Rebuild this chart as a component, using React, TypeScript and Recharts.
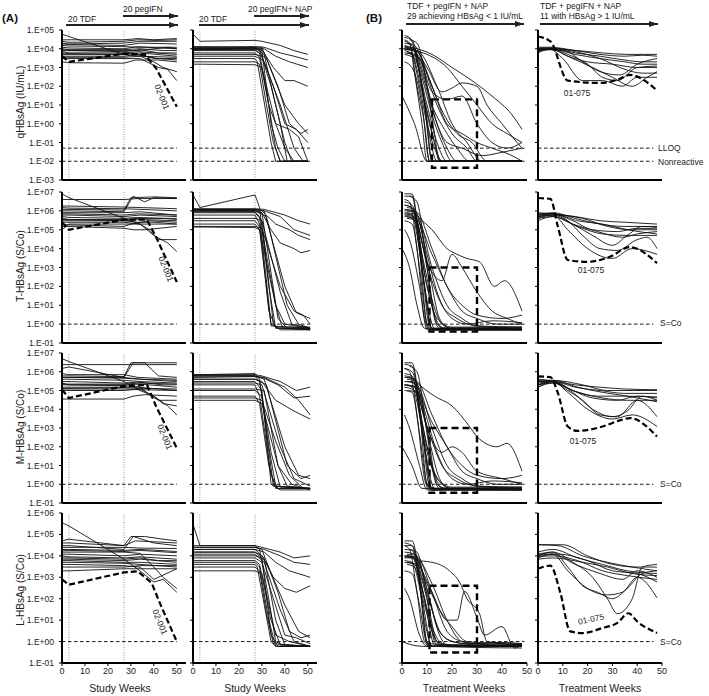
import { LineChart, Line, XAxis, YAxis, ReferenceLine, ReferenceArea } from 'recharts';

type Pt = [number, number];

const FONT = "Arial, 'Liberation Sans', sans-serif";

// ---- qHBsAg (IU/mL) ----
const qA1: Pt[][] = [
  [[0,6e4],[3,4.5e4],[27,5e3],[30,6e3],[36,4e3],[42,3e3],[50,2.5e3]],
  [[0,3e4],[3,3e4],[27,3e4],[33,3.5e4],[40,3e4],[50,3.5e4]],
  [[0,2.5e4],[3,2.2e4],[27,2.5e4],[33,3e4],[42,2.8e4],[50,3e4]],
  [[0,2e4],[3,1.8e4],[27,2e4],[34,2.5e4],[50,2.5e4]],
  [[0,1.8e4],[3,1.7e4],[27,1.5e4],[34,2e4],[50,1.8e4]],
  [[0,1.5e4],[3,1.4e4],[27,1.3e4],[33,1.2e4],[50,1.2e4]],
  [[0,1.2e4],[3,1.1e4],[27,1e4],[33,1.3e4],[42,1.1e4],[50,1e4]],
  [[0,1e4],[3,9e3],[27,9e3],[34,1e4],[44,8e3],[50,8e3]],
  [[0,9e3],[3,8e3],[27,8e3],[33,8e3],[46,1.2e4],[50,1e4]],
  [[0,8e3],[3,8e3],[27,7e3],[34,9e3],[42,6e3],[50,6e3]],
  [[0,7e3],[3,6e3],[27,6e3],[33,7e3],[50,5e3]],
  [[0,6e3],[3,5.5e3],[27,5e3],[34,6e3],[50,4e3]],
  [[0,5e3],[3,5e3],[27,5e3],[34,4e3],[40,2e3],[44,1e3],[50,6e2]],
  [[0,4e3],[3,4e3],[27,4e3],[33,5e3],[40,3e3],[50,3e3]],
  [[0,3.5e3],[3,3.5e3],[27,3.5e3],[34,4e3],[50,3.5e3]],
  [[0,3e3],[3,3e3],[27,3e3],[34,3e3],[42,1e3],[46,8e2],[50,2e2]],
  [[0,2e3],[3,1.8e3],[27,1.7e3],[32,2.5e3],[42,2.5e3],[50,2e3]],
];
const qA1Case: Pt[] = [[0,4e3],[3,2e3],[27,5.5e3],[36,5e3],[41,9e2],[50,8]];
const qA2: Pt[][] = [
  [[0,6e4],[3,2.5e4],[27,2.8e4],[30,2.5e4],[38,1.5e4],[44,8e3],[50,5e3]],
  [[0,1.2e4],[3,1.2e4],[27,1.3e4],[31,1.2e4],[38,6e3],[44,4e3],[50,2.5e3]],
  [[0,1e4],[3,1e4],[27,1.1e4],[31,1e4],[36,4e3],[42,2e3],[50,1e3]],
  [[0,9e3],[3,9e3],[27,1e4],[30,9e3],[35,1e3],[40,2e2],[44,2e2],[50,1e2]],
  [[0,8e3],[3,8e3],[27,8e3],[29,6e3],[33,10],[36,1],[40,0.05],[44,0.01],[50,0.01]],
  [[0,1e4],[3,1e4],[27,1e4],[30,8e3],[34,1],[37,0.05],[40,0.01],[50,0.01]],
  [[0,1.1e4],[3,1.1e4],[27,1.1e4],[31,5e3],[36,10],[40,0.1],[43,0.01],[50,0.01]],
  [[0,4e3],[3,4e3],[27,4e3],[29,3e3],[33,10],[36,0.05],[38,0.01],[50,0.01]],
  [[0,5e3],[3,5e3],[27,5e3],[30,4e3],[35,1e2],[40,1],[45,0.5],[50,0.1]],
  [[0,2e3],[3,2e3],[27,2e3],[29,1.5e3],[32,10],[35,0.1],[38,0.01],[50,0.01]],
  [[0,1.5e3],[3,1.5e3],[27,1.4e3],[30,1e3],[36,1],[42,0.5],[46,0.2],[50,0.01]],
  [[0,1.3e4],[3,1.3e4],[27,1.2e4],[30,1.2e4],[37,1e2],[42,1],[47,0.3],[50,0.5]],
  [[0,6e3],[3,6e3],[27,6e3],[31,2e3],[38,10],[44,0.05],[48,0.01],[50,0.01]],
  [[0,9e3],[3,9e3],[27,9e3],[32,3e3],[40,10],[46,1],[50,0.3]],
  [[0,1e4],[3,1.1e4],[27,1.1e4],[29,9e3],[34,1e2],[38,1],[41,0.01],[50,0.01]],
  [[0,3e3],[3,3e3],[27,3e3],[28,2e3],[34,0.1],[36,0.01],[50,0.01]],
];
const qB1: Pt[][] = [
  [[1,3e4],[3,2e4],[6,1e2],[9,1],[11,0.01],[48,0.01]],
  [[1,4e4],[4,3e4],[8,1e2],[12,0.05],[14,0.01],[48,0.01]],
  [[1,2e4],[4,1.5e4],[9,10],[12,0.01],[48,0.01]],
  [[0,1e4],[3,1e4],[7,1e2],[10,1],[13,0.05],[16,0.01],[48,0.01]],
  [[1,1.5e4],[5,8e3],[10,1e2],[14,1],[18,0.05],[22,0.01],[48,0.01]],
  [[1,8e3],[4,5e3],[8,50],[12,0.3],[16,0.01],[48,0.01]],
  [[2,9e3],[6,8e3],[14,1e2],[20,1],[26,0.1],[32,0.01],[48,0.01]],
  [[1,5e3],[5,3e3],[10,10],[14,0.1],[18,0.01],[48,0.01]],
  [[1,1e4],[4,9e3],[8,2e3],[14,10],[20,0.3],[26,0.05],[30,0.01],[48,0.01]],
  [[1,2e3],[4,1e3],[8,10],[11,0.01],[48,0.01]],
  [[2,2e4],[5,1.5e4],[10,5e2],[16,5],[22,0.3],[28,0.1],[34,0.01],[48,0.01]],
  [[0,30],[5,1],[10,0.01],[48,0.01]],
  [[5,8e3],[10,5e3],[18,1e3],[24,1e2],[30,10],[36,1],[42,0.3],[48,0.1]],
  [[1,6e3],[4,5e3],[7,3e3],[12,50],[18,20],[24,30],[30,1],[36,0.1],[42,0.05],[48,0.1]],
  [[1,9e3],[5,8e3],[8,5e2],[14,1],[18,0.1],[24,0.05],[32,0.02],[40,0.03],[48,0.05]],
  [[4,1.2e4],[12,5e3],[20,1e3],[28,2e2],[36,30],[44,3],[48,0.5]],
  [[1,1.3e4],[5,1e4],[10,1e3],[16,50],[20,80],[24,1.5e2],[30,1e2],[34,10],[40,1],[46,0.1],[48,0.05]],
  [[2,1e4],[6,7e3],[12,1e2],[18,1],[24,0.3],[30,0.1],[36,0.05],[44,0.02],[48,0.01]],
  [[1,5e4],[3,4e4],[7,5e2],[10,1],[12,0.01],[48,0.01]],
  [[2,7e3],[7,3e3],[12,10],[17,0.5],[22,0.05],[27,0.01],[48,0.01]],
  [[1,2.5e4],[3,2e4],[5,5e2],[8,1],[10,0.01],[48,0.01]],
  [[2,6e3],[5,4e3],[9,20],[13,0.1],[15,0.01],[48,0.01]],
  [[1,1.2e4],[4,1e4],[8,3e2],[12,3],[16,0.1],[20,0.01],[48,0.01]],
  [[3,3e4],[6,2e4],[10,1e2],[13,0.3],[15,0.01],[48,0.01]],
];
const qB2: Pt[][] = [
  [[0,1.2e4],[5,1.2e4],[15,8e3],[25,5e3],[35,4e3],[42,4.5e3],[48,4e3]],
  [[0,1e4],[5,1.1e4],[15,6e3],[25,4e3],[35,2.5e3],[42,2e3],[48,2e3]],
  [[0,9e3],[5,1e4],[15,5e3],[25,3e3],[35,2e3],[42,1.5e3],[48,1.5e3]],
  [[0,8e3],[5,1e4],[12,4e3],[20,2e3],[30,1.5e3],[40,1e3],[48,1e3]],
  [[0,1.1e4],[5,1e4],[12,7e3],[18,2e3],[25,6e2],[33,4e2],[40,1.5e3],[48,3e3]],
  [[0,7e3],[5,9e3],[14,3e3],[22,1e3],[30,3e2],[38,1e2],[44,3e2],[48,6e2]],
  [[0,6e3],[5,1e4],[12,5e3],[20,1.5e3],[26,3e2],[32,2e2],[40,1e3],[48,1.2e3]],
  [[0,1e4],[5,1.1e4],[15,7e3],[25,3e3],[35,8e2],[42,5e2],[48,5e2]],
  [[0,9e3],[5,1e4],[16,8e3],[26,6e3],[36,5e3],[48,5e3]],
  [[0,8e3],[5,9e3],[10,3e3],[18,2e2],[26,2e2],[34,1e2],[40,3e2],[48,3e2]],
];
const qB2Case: Pt[] = [[0,4.5e4],[5,2.5e4],[12,2e2],[25,1.5e2],[33,2.5e2],[37,4e2],[48,60]];

// ---- T-HBsAg (S/Co) ----
const tA1: Pt[][] = [
  [[0,8e6],[3,5e6],[27,4e5],[34,2e5],[40,5e4],[46,2e4],[50,7e3]],
  [[0,4e6],[3,4e6],[27,4e6],[33,4.5e6],[50,4.5e6]],
  [[0,1.2e6],[3,1.2e6],[27,1.1e6],[30,5e6],[40,5.5e6],[50,5e6]],
  [[0,1e6],[3,1e6],[27,9e5],[31,6e6],[36,3e6],[40,5e6],[50,4.5e6]],
  [[0,1.8e6],[3,1.8e6],[27,1.6e6],[34,1.5e6],[50,1.3e6]],
  [[0,1.5e6],[3,1.4e6],[27,1.3e6],[34,1.2e6],[50,1e6]],
  [[0,8e5],[3,8e5],[27,8e5],[34,9e5],[44,7e5],[50,6e5]],
  [[0,7e5],[3,7e5],[27,6e5],[33,7e5],[50,6e5]],
  [[0,6e5],[3,6e5],[27,5e5],[34,6e5],[50,5e5]],
  [[0,5e5],[3,4.5e5],[27,4e5],[33,4.5e5],[44,4e5],[50,3.5e5]],
  [[0,4e5],[3,3.5e5],[27,3e5],[34,3.5e5],[50,3e5]],
  [[0,3.5e5],[3,3.5e5],[27,3.5e5],[34,4e5],[50,4e5]],
  [[0,3e5],[3,3e5],[27,3e5],[33,2.5e5],[40,2.5e5],[50,2e5]],
  [[0,2.5e5],[3,2.5e5],[27,2.5e5],[34,2e5],[38,1e5],[42,3e4],[50,3e4]],
  [[0,2e5],[3,1.8e5],[27,1.5e5],[30,2e5],[38,3e5],[50,2.5e5]],
  [[0,1.5e5],[3,1.5e5],[27,1.2e5],[31,1e5],[36,1e5],[50,1.5e5]],
  [[0,1e5],[3,2e5],[27,2e5],[32,2e5],[50,2e5]],
];
const tA1Case: Pt[] = [[0,2.5e5],[3,1e5],[27,3.4e5],[37,3.4e5],[41,4e4],[50,170]];
const tA2: Pt[][] = [
  [[0,7e6],[3,1.5e6],[27,7e6],[29,1.5e6],[33,1e2],[36,0.6],[51,0.6]],
  [[0,1.3e6],[3,1.3e6],[27,1.3e6],[31,1.2e6],[40,6e5],[46,3e5],[51,2e5]],
  [[0,1.1e6],[3,1.1e6],[27,1.2e6],[31,1e6],[38,5e5],[44,1e5],[51,5e4]],
  [[0,1.2e6],[3,1.2e6],[27,1.1e6],[30,1e6],[36,2e5],[42,1e5],[46,5e4],[51,3e4]],
  [[0,1e6],[3,1e6],[27,1e6],[30,8e5],[34,1e5],[38,2e4],[44,1e4],[47,6e3],[51,8e3]],
  [[0,9e5],[3,9e5],[27,9e5],[29,5e5],[34,1],[37,0.6],[51,0.6]],
  [[0,8e5],[3,8e5],[27,8e5],[30,3e5],[35,1],[38,0.5],[51,0.5]],
  [[0,1e6],[3,1e6],[27,1e6],[30,8e5],[37,2],[41,0.6],[51,0.5]],
  [[0,6e5],[3,6e5],[27,6e5],[29,2e5],[33,5],[36,0.7],[51,0.7]],
  [[0,3e5],[3,3e5],[27,3e5],[30,1e5],[36,10],[40,1],[51,0.6]],
  [[0,2e5],[3,2e5],[27,2e5],[29,1e5],[34,0.8],[51,0.6]],
  [[0,1.5e5],[3,1.5e5],[27,1.5e5],[30,1.2e5],[38,1e2],[44,5],[48,3],[51,1]],
  [[0,1.2e6],[3,1.2e6],[27,1.2e6],[31,1e6],[40,1e2],[45,4],[51,2]],
  [[0,1.1e6],[3,1.1e6],[27,1e6],[32,5e5],[41,10],[46,1],[51,0.6]],
  [[0,1.4e5],[3,1.4e5],[27,1.3e5],[29,1e5],[36,10],[39,0.6],[51,0.5]],
  [[0,4e5],[3,4e5],[27,4e5],[30,3e5],[38,50],[43,1],[51,0.6]],
];
const tB1: Pt[][] = [
  [[1,8e6],[4,8e6],[8,1e3],[11,0.8],[14,0.5],[48,0.5]],
  [[1,6e6],[4,6e6],[7,1e4],[10,1],[12,0.5],[48,0.6]],
  [[1,1.2e6],[5,1e6],[9,1e2],[12,0.5],[48,0.5]],
  [[1,1e6],[4,1e6],[10,1e3],[14,1],[18,0.6],[48,0.6]],
  [[1,8e5],[4,6e5],[8,1e3],[12,0.6],[48,0.5]],
  [[1,5e5],[5,4e5],[10,1e2],[14,2],[20,0.7],[48,0.7]],
  [[1,3e5],[4,2e5],[7,1e3],[10,1],[12,0.5],[48,0.5]],
  [[1,1e5],[3,3e4],[7,1e2],[10,0.5],[48,0.5]],
  [[0,1e4],[3,1e3],[6,10],[9,0.6],[48,0.6]],
  [[2,8e5],[6,6e5],[12,1e3],[18,10],[24,2],[30,0.8],[48,0.6]],
  [[6,5e5],[12,1e5],[18,1e4],[22,5e3],[26,3e3],[31,2e3],[37,1e2],[41,2e2],[48,5]],
  [[2,1e6],[6,8e5],[12,1e4],[18,1e2],[24,10],[30,3],[40,2],[48,3]],
  [[1,6e5],[6,4e5],[10,5e3],[14,50],[20,2],[26,1],[36,1.5],[48,1.2]],
  [[1,3e6],[4,2e6],[8,2e4],[12,2e2],[16,10],[22,2],[30,0.8],[48,0.7]],
  [[2,4e5],[6,3e5],[12,5e3],[18,1e2],[24,5],[30,2],[38,1],[48,1]],
  [[1,7e5],[5,5e5],[10,2e3],[16,2e2],[20,5e3],[24,1e3],[30,50],[36,5],[42,2],[48,1]],
  [[1,2e6],[4,1.5e6],[9,1e2],[13,0.6],[48,0.6]],
  [[2,1.5e6],[5,1.2e6],[11,5e2],[15,2],[19,0.6],[48,0.6]],
  [[1,4e6],[3,3e6],[6,1e4],[9,2],[11,0.5],[48,0.5]],
  [[2,5e5],[5,3e5],[9,5e2],[13,3],[16,0.6],[48,0.6]],
  [[1,2e6],[4,1.5e6],[8,5e3],[12,20],[16,1],[20,0.6],[48,0.6]],
  [[3,6e6],[6,3e6],[10,1e3],[13,2],[15,0.6],[48,0.6]],
];
const tB2: Pt[][] = [
  [[0,8e5],[6,7e5],[15,5e5],[25,3e5],[35,2.5e5],[48,2e5]],
  [[0,6e5],[6,8e5],[15,4e5],[25,2e5],[35,1.5e5],[48,1.5e5]],
  [[0,5e5],[6,7e5],[14,3e5],[22,1e5],[32,8e4],[40,1.2e5],[48,1.1e5]],
  [[0,4e5],[6,6e5],[14,2e5],[22,5e4],[30,1.5e4],[36,5e4],[42,1.5e5],[48,1.3e5]],
  [[0,7e5],[6,7e5],[12,3e5],[18,5e4],[25,1e4],[32,8e3],[40,3e4],[44,4e4],[48,1e4]],
  [[0,3e5],[6,5e5],[16,1.5e5],[26,6e4],[36,5e4],[48,5e4]],
  [[0,5e5],[6,6e5],[12,1e5],[20,1e4],[30,3e3],[38,1e4],[48,5e3]],
  [[0,6e5],[6,7e5],[16,3e5],[26,2e5],[36,1e5],[48,6e4]],
  [[0,4e5],[6,5e5],[14,2e5],[24,8e4],[34,4e4],[40,6e4],[48,8e4]],
  [[0,5e5],[6,6e5],[18,4e5],[28,1.5e5],[38,1e5],[48,1e5]],
];
const tB2Case: Pt[] = [[0,4.8e6],[5,4.3e6],[8,1.5e5],[12,2.5e3],[20,2e3],[29,3.7e3],[37,1.2e4],[48,1.7e3]];

// ---- M-HBsAg (S/Co) ----
const mA1: Pt[][] = [
  [[0,5e6],[3,3.5e6],[27,3e5],[34,1e5],[40,5e4],[46,1.5e4],[50,5e3]],
  [[0,2.4e6],[3,2.4e6],[27,2.4e6],[34,2.4e6],[50,2.4e6]],
  [[0,6e5],[3,6e5],[27,5.5e5],[30,3e6],[40,3e6],[50,3e6]],
  [[0,5e5],[3,5e5],[27,5e5],[31,3e6],[36,3e6],[42,6e5],[50,5e5]],
  [[0,1.5e6],[3,1.8e6],[27,5e5],[34,4e5],[50,3e5]],
  [[0,5e5],[3,5e5],[27,4.5e5],[34,4e5],[50,3.5e5]],
  [[0,4e5],[3,4e5],[27,3.5e5],[34,3e5],[50,2.5e5]],
  [[0,3e5],[3,3e5],[27,2.5e5],[33,2.8e5],[44,2e5],[50,2e5]],
  [[0,2.2e5],[3,2.2e5],[27,2.2e5],[34,2.5e5],[50,2.2e5]],
  [[0,2e5],[3,2e5],[27,2e5],[34,2.2e5],[50,1.5e5]],
  [[0,1.5e5],[3,1.5e5],[27,1.5e5],[33,1.5e5],[42,1.2e5],[50,1e5]],
  [[0,1.3e5],[3,1.3e5],[27,1.4e5],[34,1.3e5],[50,1.2e5]],
  [[0,1.2e5],[3,1.2e5],[27,1.2e5],[34,1.1e5],[50,1e5]],
  [[0,1e5],[3,1e5],[27,1e5],[34,1.2e5],[40,5e4],[44,2e4],[50,1.5e4]],
  [[0,3.5e4],[3,3.5e4],[27,3.5e4],[31,5e4],[36,6e4],[50,5e4]],
  [[0,8e5],[3,7e5],[27,7e5],[33,5e5],[50,4e5]],
  [[0,2.5e5],[3,2e5],[27,1.8e5],[34,1.5e5],[38,6e4],[42,3e4],[50,3e4]],
];
const mA1Case: Pt[] = [[0,1.1e5],[3,4e4],[27,1.7e5],[37,2e5],[41,1.4e4],[50,85]];
const mA2: Pt[][] = [
  [[0,7e5],[3,7e5],[27,7e5],[30,6e5],[38,3e5],[45,1e5],[51,1.5e5]],
  [[0,6e5],[3,6e5],[27,6e5],[30,5e5],[37,2e5],[44,4e4],[51,5e4]],
  [[0,5e5],[3,5e5],[27,5.5e5],[31,5e5],[40,1.5e5],[46,3e4],[51,5e3]],
  [[0,4e5],[3,4e5],[27,4e5],[30,3e5],[36,3e4],[44,8e3],[51,3e3]],
  [[0,7e5],[3,7e5],[27,8e5],[29,4e5],[33,1e2],[36,0.8],[51,0.6]],
  [[0,3e5],[3,3e5],[27,3e5],[30,1e5],[34,1],[38,0.5],[51,0.5]],
  [[0,2e5],[3,2e5],[27,2e5],[29,5e4],[34,3],[37,0.6],[51,0.6]],
  [[0,1.2e5],[3,1.2e5],[27,1.2e5],[31,1e5],[37,10],[41,0.8],[51,0.6]],
  [[0,1e5],[3,1e5],[27,1e5],[30,5e4],[35,0.8],[51,0.6]],
  [[0,5e4],[3,5e4],[27,5e4],[29,2e4],[33,10],[36,0.6],[51,0.6]],
  [[0,3e4],[3,3e4],[27,3e4],[30,2e4],[37,10],[43,1],[51,0.5]],
  [[0,6e5],[3,6e5],[27,6e5],[31,4e5],[40,1e2],[46,3],[51,2]],
  [[0,4e5],[3,4e5],[27,4e5],[32,2e5],[41,10],[47,2],[51,3]],
  [[0,2.5e5],[3,2.5e5],[27,2.5e5],[30,2e5],[38,1e2],[44,2],[51,0.8]],
  [[0,6e5],[3,6e5],[27,6e5],[29,3e5],[34,50],[38,0.7],[51,0.6]],
  [[0,4e4],[3,4e4],[27,4e4],[30,3e4],[36,2e2],[42,3],[48,0.6],[51,0.6]],
];
const mB1: Pt[][] = [
  [[1,3e6],[4,3e6],[8,1e3],[11,0.8],[14,0.6],[48,0.6]],
  [[1,2.5e6],[4,2e6],[7,1e4],[10,1],[12,0.6],[48,0.6]],
  [[1,5e5],[5,4e5],[9,1e2],[12,0.5],[48,0.5]],
  [[1,3e5],[4,3e5],[10,1e3],[14,1],[18,0.6],[48,0.6]],
  [[1,2e5],[4,1.5e5],[8,1e3],[12,0.6],[48,0.5]],
  [[1,1.5e5],[5,1e5],[10,1e2],[14,2],[20,0.7],[48,0.7]],
  [[1,1e5],[4,8e4],[7,5e2],[10,1],[12,0.5],[48,0.5]],
  [[1,5e3],[3,1e3],[7,10],[10,0.5],[48,0.5]],
  [[0,1e2],[4,10],[8,0.6],[48,0.6]],
  [[2,3e5],[6,2e5],[12,1e3],[18,10],[24,2],[30,0.8],[48,0.6]],
  [[6,2.5e5],[13,5e4],[20,1.5e4],[27,1.2e3],[30,3.5e2],[38,1e2],[42,1.5e2],[48,5]],
  [[2,4e5],[6,3e5],[12,5e3],[18,1e2],[24,10],[30,3],[40,2],[48,3]],
  [[1,2e5],[6,1.5e5],[10,3e3],[14,50],[20,2],[26,1],[36,1.5],[48,1.2]],
  [[1,1.5e6],[4,1e6],[8,1e4],[12,2e2],[16,10],[22,2],[30,0.8],[48,0.7]],
  [[2,1e5],[6,8e4],[12,2e3],[18,1e2],[24,5],[30,2],[38,1],[48,1]],
  [[1,2e5],[5,1.5e5],[10,1e3],[16,50],[20,1e2],[24,50],[30,5],[40,2],[48,1]],
  [[1,8e5],[4,6e5],[9,1e2],[13,0.6],[48,0.6]],
  [[2,5e5],[5,4e5],[11,2e2],[15,2],[19,0.6],[48,0.6]],
  [[1,1.5e6],[3,1e6],[6,5e3],[9,2],[11,0.5],[48,0.5]],
  [[2,2e5],[5,1.5e5],[9,2e2],[13,3],[16,0.6],[48,0.6]],
  [[1,6e5],[4,5e5],[8,2e3],[12,10],[16,1],[20,0.6],[48,0.6]],
  [[3,2e6],[6,1e6],[10,5e2],[13,2],[15,0.6],[48,0.6]],
];
const mB2: Pt[][] = [
  [[0,3e5],[6,3e5],[15,2e5],[25,1.5e5],[35,1.2e5],[48,1.1e5]],
  [[0,2e5],[6,3e5],[15,1.5e5],[25,1e5],[35,7e4],[48,7e4]],
  [[0,1.5e5],[6,3e5],[14,1e5],[22,4e4],[32,3e4],[40,5e4],[48,4e4]],
  [[0,2.5e5],[6,3e5],[14,8e4],[22,1e4],[30,4e3],[36,8e3],[42,5e4],[48,3e4]],
  [[0,4e5],[6,3e5],[12,1e5],[18,3e4],[25,5e3],[32,4e3],[40,3e4],[48,4e3]],
  [[0,1.5e5],[6,2.5e5],[16,8e4],[26,4e4],[36,3e4],[48,3e4]],
  [[0,2e5],[6,3e5],[12,8e4],[20,1e4],[30,3e3],[38,5e3],[48,1.2e3]],
  [[0,3e5],[6,3.5e5],[16,1.5e5],[26,8e4],[36,5e4],[48,2.5e4]],
  [[0,2e5],[6,2.5e5],[14,1e5],[24,5e4],[34,5e4],[48,4.5e4]],
  [[0,3.5e5],[6,3.5e5],[18,2e5],[28,1e5],[38,1e5],[48,1e5]],
];
const mB2Case: Pt[] = [[0,5.6e5],[5,5.2e5],[8,7.4e4],[12,1.2e3],[16,7e2],[26,1.2e3],[34,2.8e3],[37,3.4e3],[48,3.5e2]];

// ---- L-HBsAg (S/Co) ----
const lA1: Pt[][] = [
  [[0,3.5e5],[3,2.5e5],[27,7e3],[34,2e3],[40,6e2],[44,8e2],[50,2e2]],
  [[0,5e4],[3,6e4],[27,3e4],[30,8e4],[36,8e4],[44,6e4],[50,5e4]],
  [[0,4e4],[3,4e4],[27,3e4],[32,5e4],[50,4e4]],
  [[0,3e4],[3,3e4],[27,2e4],[31,8e4],[40,4e4],[50,3e4]],
  [[0,2.5e4],[3,2.5e4],[27,2.5e4],[34,2.3e4],[50,2.2e4]],
  [[0,2e4],[3,2e4],[27,1.8e4],[34,2e4],[50,1.6e4]],
  [[0,1.8e4],[3,1.8e4],[27,1.6e4],[34,1.8e4],[50,1.4e4]],
  [[0,1.5e4],[3,1.5e4],[27,1.5e4],[34,1.3e4],[40,3e3],[44,1e3],[50,3e2]],
  [[0,1.2e4],[3,1.2e4],[27,1e4],[34,1.2e4],[50,1e4]],
  [[0,1e4],[3,9e3],[27,8e3],[34,9e3],[50,7e3]],
  [[0,8e3],[3,8e3],[27,7e3],[34,8e3],[42,6e3],[50,6e3]],
  [[0,7e3],[3,7e3],[27,6e3],[34,7e3],[50,5e3]],
  [[0,6e3],[3,6e3],[27,5e3],[34,5e3],[50,4e3]],
  [[0,5e3],[3,5e3],[27,4.5e3],[34,4e3],[50,3e3]],
  [[0,4e3],[3,4e3],[27,3.5e3],[34,3e3],[40,8e2],[50,2.5e3]],
  [[0,3e3],[3,3e3],[27,3e3],[34,3.5e3],[50,3.5e3]],
  [[0,2e3],[3,2e3],[27,2.5e3],[34,2.5e3],[50,2.5e3]],
];
const lA1Case: Pt[] = [[0,8e2],[3,4.5e2],[27,1.7e3],[33,1.9e3],[39,5.5e2],[43,50],[50,1]];
const lA2: Pt[][] = [
  [[0,3e5],[3,3e4],[27,3e4],[30,2.5e4],[38,1.5e4],[44,8e3],[51,1e4]],
  [[0,2.5e4],[3,2.5e4],[27,2.5e4],[31,2e4],[38,1e4],[44,5e3],[51,4e3]],
  [[0,2e4],[3,2e4],[27,2e4],[31,1.5e4],[36,5e3],[42,2e3],[51,1e3]],
  [[0,1.5e4],[3,1.5e4],[27,1.5e4],[30,1e4],[35,1e3],[40,3e2],[45,2e2],[51,4e2]],
  [[0,3e4],[3,3e4],[27,3e4],[29,2e4],[33,1e2],[36,1],[40,0.6],[51,0.6]],
  [[0,1e4],[3,1e4],[27,1e4],[30,8e3],[34,2],[37,0.6],[51,0.6]],
  [[0,2e4],[3,2e4],[27,2e4],[31,8e3],[36,10],[40,0.7],[51,0.6]],
  [[0,5e3],[3,5e3],[27,5e3],[29,3e3],[33,10],[36,0.6],[51,0.6]],
  [[0,8e3],[3,8e3],[27,8e3],[30,5e3],[35,1e2],[40,2],[45,1.5],[51,0.8]],
  [[0,3e3],[3,3e3],[27,3e3],[29,2e3],[32,20],[35,0.8],[51,0.6]],
  [[0,2e3],[3,2e3],[27,2e3],[30,1.5e3],[36,2],[42,1],[51,0.6]],
  [[0,2.5e4],[3,2.5e4],[27,2.5e4],[30,2e4],[37,2e2],[42,3],[47,1.5],[51,2]],
  [[0,1.2e4],[3,1.2e4],[27,1.2e4],[31,5e3],[38,30],[44,1],[51,0.6]],
  [[0,1.5e4],[3,1.5e4],[27,1.5e4],[32,5e3],[40,50],[46,3],[51,1.5]],
  [[0,6e3],[3,6e3],[27,6e3],[29,4e3],[34,10],[38,0.7],[51,0.6]],
  [[0,4e3],[3,4e3],[27,4e3],[28,3e3],[34,1],[36,0.6],[51,0.6]],
];
const lB1: Pt[][] = [
  [[1,5e4],[4,5e4],[7,1e3],[10,1],[12,0.6],[48,0.6]],
  [[1,3e4],[4,3e4],[7,5e2],[10,0.8],[48,0.6]],
  [[1,1e4],[5,8e3],[9,10],[12,0.6],[48,0.6]],
  [[1,8e3],[4,8e3],[10,1e2],[14,1],[18,0.6],[48,0.6]],
  [[1,6e3],[4,5e3],[8,1e2],[12,0.6],[48,0.5]],
  [[1,5e3],[5,4e3],[10,30],[14,1],[20,0.7],[48,0.7]],
  [[1,2e3],[4,1.5e3],[7,50],[10,0.8],[12,0.6],[48,0.6]],
  [[1,3e2],[3,1e2],[7,2],[10,0.6],[48,0.6]],
  [[0,1],[4,0.7],[8,0.6],[48,0.6]],
  [[2,1.2e4],[6,1e4],[12,2e2],[18,3],[24,1],[30,0.8],[48,0.6]],
  [[5,6e3],[12,5e3],[19,2e3],[23,6e2],[26,1e2],[31,20],[34,1],[48,0.7]],
  [[2,1e4],[6,8e3],[12,5e2],[18,10],[24,1],[30,0.8],[40,0.9],[48,0.8]],
  [[1,9e3],[6,7e3],[10,3e2],[14,5],[20,1],[26,0.8],[36,0.9],[48,0.8]],
  [[1,4e4],[4,3e4],[8,1e3],[12,30],[16,2],[22,0.9],[30,0.7],[48,0.7]],
  [[2,5e3],[6,4e3],[12,2e2],[18,10],[22,10],[25,2.2e2],[30,13],[33,2],[40,5],[45,0.5],[48,0.7]],
  [[1,1.5e4],[5,1.2e4],[10,5e2],[16,20],[20,5],[26,1],[40,0.8],[48,0.7]],
  [[1,2e4],[4,1.8e4],[9,1e2],[13,0.7],[48,0.6]],
  [[2,1e4],[5,9e3],[11,1e2],[15,2],[19,0.6],[48,0.6]],
  [[1,3e4],[3,2e4],[6,2e2],[9,1],[11,0.6],[48,0.6]],
  [[2,4e3],[5,3e3],[9,50],[13,1.5],[16,0.6],[48,0.6]],
  [[1,1e4],[4,9e3],[8,3e2],[12,5],[16,0.8],[20,0.6],[48,0.6]],
  [[3,2e4],[6,1.5e4],[10,1e2],[13,1],[15,0.6],[48,0.6]],
];
const lB2: Pt[][] = [
  [[0,3.3e4],[10,3.3e4],[20,1e4],[30,4e3],[40,3e3],[48,3e3]],
  [[0,3.3e4],[8,3e4],[18,1e4],[28,5e3],[38,3e3],[48,2e3]],
  [[0,1.5e4],[6,2e4],[16,8e3],[26,4e3],[36,2e3],[48,1.5e3]],
  [[0,1e4],[6,1.5e4],[14,5e3],[22,1e3],[28,1e2],[32,20],[38,1e2],[42,3e3],[48,4e3]],
  [[0,1.2e4],[6,1.5e4],[12,3e3],[18,4e2],[24,2e2],[30,1e2],[36,3e2],[42,1.5e3],[48,2e3]],
  [[0,8e3],[6,1.2e4],[15,4e3],[25,1.5e3],[34,8e2],[40,2e3],[48,1e3]],
  [[0,1e4],[6,1.2e4],[12,2e3],[20,3e2],[28,1.5e2],[34,2e2],[40,1e3],[48,1.1e2]],
  [[0,9e3],[6,1e4],[16,6e3],[26,2e3],[36,1.2e3],[48,8e2]],
  [[0,7e3],[6,8e3],[18,5e3],[28,3e3],[38,1.5e3],[48,1.2e3]],
  [[0,1.2e4],[8,1.2e4],[20,6e3],[30,2e3],[40,1.5e3],[48,6e2]],
];
const lB2Case: Pt[] = [[0,2.5e3],[5,3.5e3],[9,1.9e2],[13,3],[18,2.5],[26,4.3],[32,7.4],[36.5,21],[40,8.7],[48,2.5]];

// dashed boxes in the B1 column: [x1, x2, y1, y2]
const boxesB1 = [[12, 30, 0.0045, 20], [11, 30, 0.4, 1000], [11, 30, 0.35, 1000], [11, 30, 0.31, 400]];
const weekTicks = [0, 10, 20, 30, 40, 50];
const decades = (lo: number, hi: number) => {
  const out: number[] = [];
  for (let e = lo; e <= hi; e++) out.push(Math.pow(10, e));
  return out;
};

const cols = [
  { left: 62, w: 124, xMax: 54, refEnd: 50, curve: 'linear' as const },
  { left: 193, w: 124, xMax: 54, refEnd: 51, curve: 'linear' as const },
  { left: 402, w: 125, xMax: 50, refEnd: 49, curve: 'monotone' as const },
  { left: 538, w: 124, xMax: 50, refEnd: 46.5, curve: 'monotone' as const },
];

const rows = [
  { top: 30, h: 150, ticks: decades(-3, 5), refs: [0.05, 0.01], sets: [qA1, qA2, qB1, qB2], cases: [qA1Case, null, null, qB2Case] },
  { top: 192, h: 151, ticks: decades(-1, 7), refs: [1], sets: [tA1, tA2, tB1, tB2], cases: [tA1Case, null, null, tB2Case] },
  { top: 353, h: 150, ticks: decades(-1, 7), refs: [1], sets: [mA1, mA2, mB1, mB2], cases: [mA1Case, null, null, mB2Case] },
  { top: 513, h: 150, ticks: decades(-1, 6), refs: [1], sets: [lA1, lA2, lB1, lB2], cases: [lA1Case, null, null, lB2Case] },
];

const sci = (v: number) => {
  const e = Math.round(Math.log10(v));
  return `1.E${e < 0 ? '-' : '+'}${String(Math.abs(e)).padStart(2, '0')}`;
};

const toRows = (s: Pt[]) => s.map(([w, v]) => ({ w, v }));

type PanelProps = {
  ci: number;
  ri: number;
};

const Panel = ({ ci, ri }: PanelProps) => {
  const col = cols[ci];
  const row = rows[ri];
  const yw = 40, mt = 4, mr = 6, xh = 20;
  const ticks = row.ticks;
  const caseLine = row.cases[ci];
  const box = ci === 2 ? boxesB1[ri] : null;
  return (
    <div style={{ position: 'absolute', left: col.left - yw, top: row.top - mt }}>
      <LineChart width={yw + col.w + mr} height={mt + row.h + xh} margin={{ top: mt, right: mr, left: 0, bottom: 0 }}>
        <XAxis
          type="number"
          dataKey="w"
          domain={[0, col.xMax]}
          ticks={weekTicks}
          interval={0}
          allowDataOverflow
          height={xh}
          tickSize={3}
          axisLine={{ stroke: '#000', strokeWidth: 2 }}
          tickLine={{ stroke: '#000' }}
          tick={ri === 3 ? { fontSize: 9, fill: '#222', fontFamily: FONT } : false}
        />
        <YAxis
          type="number"
          scale="log"
          domain={[ticks[0], ticks[ticks.length - 1]]}
          ticks={ticks}
          interval={0}
          allowDataOverflow
          width={yw}
          tickSize={3}
          tickMargin={5}
          axisLine={{ stroke: '#000', strokeWidth: 2 }}
          tickLine={{ stroke: '#000' }}
          tickFormatter={ci === 0 ? sci : () => ''}
          tick={{ fontSize: 8.5, fill: '#222', fontFamily: FONT }}
        />
        {ci < 2 && <ReferenceLine x={3} stroke="#777" strokeDasharray="1 1.5" strokeWidth={0.8} />}
        {ci < 2 && <ReferenceLine x={27} stroke="#777" strokeDasharray="1 1.5" strokeWidth={0.8} />}
        {row.refs.map((y) => (
          <ReferenceLine
            key={y}
            segment={[{ x: 0, y }, { x: col.refEnd, y }]}
            stroke="#000"
            strokeDasharray="3.5 2.5"
            strokeWidth={0.9}
          />
        ))}
        {row.sets[ci].map((s, i) => (
          <Line
            key={i}
            data={toRows(s)}
            dataKey="v"
            type={col.curve}
            stroke="#111"
            strokeWidth={0.9}
            dot={false}
            isAnimationActive={false}
          />
        ))}
        {caseLine && (
          <Line
            data={toRows(caseLine)}
            dataKey="v"
            type={col.curve}
            stroke="#000"
            strokeWidth={2.2}
            strokeDasharray="6 3"
            dot={false}
            isAnimationActive={false}
          />
        )}
        {box && (
          <ReferenceArea
            x1={box[0]}
            x2={box[1]}
            y1={box[2]}
            y2={box[3]}
            fill="none"
            fillOpacity={0}
            stroke="#000"
            strokeWidth={2.4}
            strokeDasharray="7 4"
          />
        )}
      </LineChart>
    </div>
  );
};

const yTitles = [
  { y: 102, t: 'qHBsAg (IU/mL)' },
  { y: 266, t: 'T-HBsAg (S/Co)' },
  { y: 427, t: 'M-HBsAg (S/Co)' },
  { y: 590, t: 'L-HBsAg (S/Co)' },
];
const caseA = [[162, 97], [166, 269], [165, 437], [160, 622]];
const caseB = [[577, 93], [591, 270], [583, 441], [591, 619]];

const Overlay = () => (
  <svg width={709} height={696} style={{ position: 'absolute', left: 0, top: 0, pointerEvents: 'none' }} fontFamily={FONT}>
    <defs>
      <marker id="ah" markerWidth={9} markerHeight={6} refX={9} refY={3} orient="auto" markerUnits="userSpaceOnUse">
        <path d="M0,0 L9,3 L0,6 z" fill="#222" />
      </marker>
    </defs>
    <text x={2} y={22} fontSize={11.5} fontWeight="bold" fill="#111">(A)</text>
    <text x={366} y={22} fontSize={11.5} fontWeight="bold" fill="#111">(B)</text>

    <text x={123} y={12} fontSize={8.5} fill="#222">20 pegIFN</text>
    <line x1={123} y1={16} x2={178} y2={16} stroke="#222" strokeWidth={1.8} markerEnd="url(#ah)" />
    <text x={68} y={22} fontSize={8.5} fill="#222">20 TDF</text>
    <line x1={66} y1={25} x2={178} y2={25} stroke="#222" strokeWidth={1.8} markerEnd="url(#ah)" />

    <text x={248} y={12} fontSize={8.5} fill="#222">20 pegIFN+ NAP</text>
    <line x1={254} y1={16} x2={309} y2={16} stroke="#222" strokeWidth={1.8} markerEnd="url(#ah)" />
    <text x={199} y={22} fontSize={8.5} fill="#222">20 TDF</text>
    <line x1={199} y1={25} x2={309} y2={25} stroke="#222" strokeWidth={1.8} markerEnd="url(#ah)" />

    <text x={407} y={9} fontSize={8.5} fill="#222">TDF + pegIFN + NAP</text>
    <text x={407} y={19} fontSize={8.5} fill="#222">29 achieving HBsAg &lt; 1 IU/mL</text>
    <line x1={406} y1={24} x2={524} y2={24} stroke="#222" strokeWidth={1.8} markerEnd="url(#ah)" />

    <text x={540} y={9} fontSize={8.5} fill="#222">TDF + pegIFN + NAP</text>
    <text x={540} y={19} fontSize={8.5} fill="#222">11 with HBsAg &gt; 1 IU/mL</text>
    <line x1={540} y1={24} x2={658} y2={24} stroke="#222" strokeWidth={1.8} markerEnd="url(#ah)" />

    <text x={658} y={147.5} fontSize={8.5} fill="#222" dominantBaseline="central">LLOQ</text>
    <text x={658} y={161.5} fontSize={8.5} fill="#222" dominantBaseline="central">Nonreactive</text>
    {[323.3, 484.3, 641.7].map((y) => (
      <text key={y} x={660} y={y} fontSize={8.5} fill="#222" dominantBaseline="central">S=Co</text>
    ))}

    {yTitles.map((d) => (
      <text key={d.t} x={20} y={d.y} fontSize={10} fill="#222" textAnchor="middle" dominantBaseline="central" transform={`rotate(-90 20 ${d.y})`}>
        {d.t}
      </text>
    ))}
    {caseA.map(([x, y]) => (
      <text key={y} x={x} y={y} fontSize={8.5} fill="#222" textAnchor="middle" dominantBaseline="central" transform={`rotate(68 ${x} ${y})`}>
        02-001
      </text>
    ))}
    {caseB.map(([x, y], i) => (
      <text key={y} x={x} y={y} fontSize={8.5} fill="#222" textAnchor="middle" dominantBaseline="central" transform={i === 3 ? `rotate(-12 ${x} ${y})` : undefined}>
        01-075
      </text>
    ))}

    <text x={120} y={692} fontSize={10.5} fill="#222" textAnchor="middle">Study Weeks</text>
    <text x={255} y={692} fontSize={10.5} fill="#222" textAnchor="middle">Study Weeks</text>
    <text x={464} y={692} fontSize={10.5} fill="#222" textAnchor="middle">Treatment Weeks</text>
    <text x={600} y={692} fontSize={10.5} fill="#222" textAnchor="middle">Treatment Weeks</text>
  </svg>
);

export default function App() {
  return (
    <div style={{ position: 'absolute', left: 0, top: 0, width: 709, height: 696, background: '#fff', fontFamily: FONT }}>
      {rows.map((_, ri) => cols.map((__, ci) => <Panel key={`${ri}-${ci}`} ci={ci} ri={ri} />))}
      <Overlay />
    </div>
  );
}
